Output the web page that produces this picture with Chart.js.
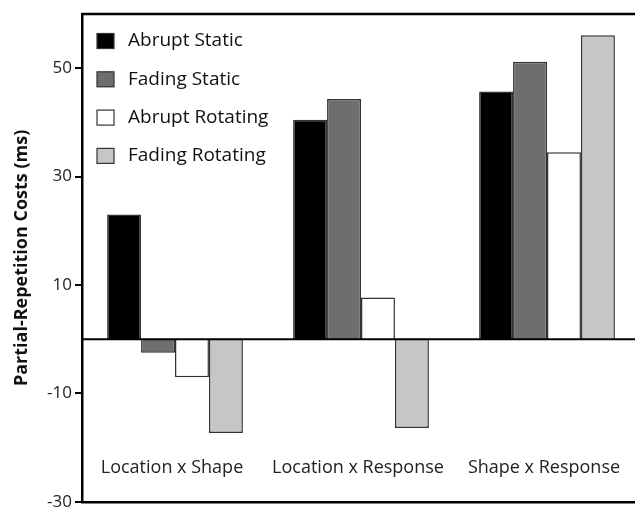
<!DOCTYPE html>
<html>
<head>
<meta charset="utf-8">
<script src="https://cdn.jsdelivr.net/npm/chart.js@4.4.0/dist/chart.umd.min.js"></script>
<style>
  html, body { margin: 0; padding: 0; background: #fff; overflow: hidden; }
  #wrap { width: 640px; height: 508px; overflow: hidden; }
</style>
</head>
<body>
<div id="wrap"><canvas id="costs" width="640" height="515"></canvas></div>
<script>
var categories = ["Location x Shape", "Location x Response", "Shape x Response"];
var seriesNames = ["Abrupt Static", "Fading Static", "Abrupt Rotating", "Fading Rotating"];
var abruptStatic = [23, 40.5, 45.7];
var fadingStatic = [-2.5, 44.3, 51.2];
var abruptRotating = [-7, 7.7, 34.5];
var fadingRotating = [-17.3, -16.4, 56.1];
var yTicks = [-30, -10, 10, 30, 50];
var barColors = ["#000000", "#6e6e6e", "#ffffff", "#c6c6c6"];

var allValues = [abruptStatic, fadingStatic, abruptRotating, fadingRotating];

// frame lines, zero line, legend and category labels inside the plot
var framePlugin = {
  id: "frame",
  afterDatasetsDraw: function(chart) {
    var ctx = chart.ctx;
    var area = chart.chartArea;
    var y = chart.scales.y;
    var x = chart.scales.x;
    ctx.save();
    ctx.strokeStyle = "#000";
    ctx.lineWidth = 2.5;
    ctx.beginPath();
    ctx.moveTo(area.left, area.top);
    ctx.lineTo(chart.width, area.top);
    ctx.stroke();
    var zero = y.getPixelForValue(0);
    ctx.lineWidth = 2;
    ctx.beginPath();
    ctx.moveTo(area.left, zero);
    ctx.lineTo(chart.width, zero);
    ctx.stroke();

    // legend
    ctx.font = "19px 'Open Sans'";
    ctx.textBaseline = "middle";
    ctx.textAlign = "left";
    chart.data.datasets.forEach(function(ds, i) {
      var cy = area.top + 27 + i * 38.3;
      ctx.fillStyle = ds.backgroundColor;
      ctx.fillRect(area.left + 15, cy - 7.5, 17, 15);
      ctx.lineWidth = 1.2;
      ctx.strokeStyle = "#333";
      ctx.strokeRect(area.left + 15, cy - 7.5, 17, 15);
      ctx.fillStyle = "#111";
      ctx.fillText(ds.label, area.left + 46, cy);
    });

    // category labels
    ctx.font = "18px 'Open Sans'";
    ctx.textAlign = "center";
    ctx.fillStyle = "#222";
    var labelY = y.getPixelForValue(-23.8);
    categories.forEach(function(c, i) {
      ctx.fillText(c, x.getPixelForValue(i) - 3, labelY);
    });
    ctx.restore();
  }
};

new Chart("costs", {
  type: "bar",
  data: {
    labels: categories,
    datasets: seriesNames.map(function(name, i) {
      return {
        label: name,
        data: allValues[i],
        backgroundColor: barColors[i],
        borderColor: "#333",
        borderWidth: 1.5,
        categoryPercentage: 0.73,
        barPercentage: 1.0
      };
    })
  },
  options: {
    responsive: false,
    animation: false,
    layout: { padding: { top: 14, right: 0, bottom: 0, left: 0 } },
    plugins: {
      legend: { display: false },
      tooltip: { enabled: false }
    },
    scales: {
      x: {
        grid: { display: false },
        ticks: { display: false },
        border: { color: "#000", width: 2.5 },
        afterFit: function(scale) { scale.height = 2; }
      },
      y: {
        min: -30,
        max: 60,
        afterBuildTicks: function(scale) {
          scale.ticks = yTicks.map(function(v) { return { value: v }; });
        },
        afterFit: function(scale) { scale.width = 82; },
        grid: { drawOnChartArea: false, tickLength: 7, color: "#000", lineWidth: 2 },
        border: { color: "#000", width: 2.5 },
        ticks: {
          padding: 3,
          color: "#222",
          font: { family: "'Open Sans'", size: 17 }
        },
        title: {
          display: true,
          text: "Partial-Repetition Costs (ms)",
          color: "#111",
          padding: { top: 11, bottom: 0 },
          font: { family: "'Open Sans'", size: 18, weight: "bold" }
        }
      }
    }
  },
  plugins: [framePlugin]
});
</script>
</body>
</html>
